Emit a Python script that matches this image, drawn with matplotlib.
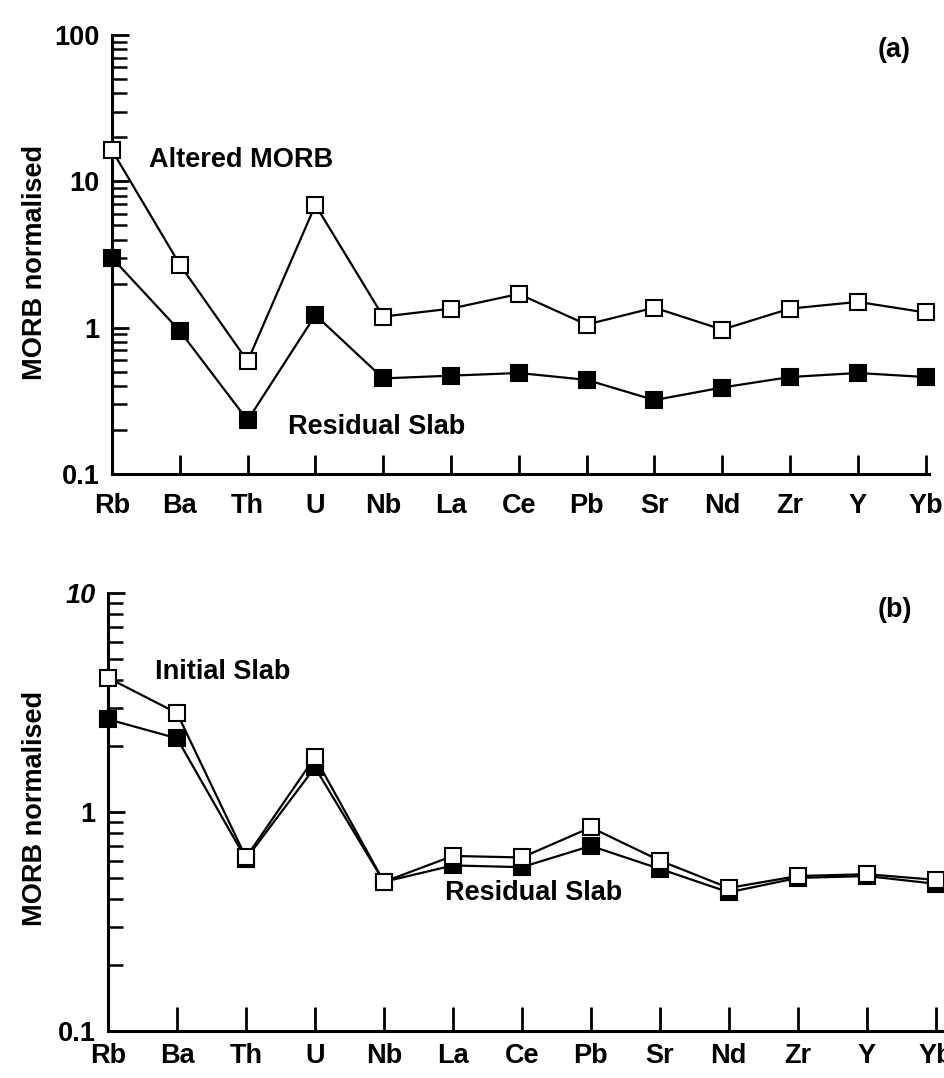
import matplotlib
matplotlib.use("Agg")
import matplotlib.pyplot as plt
from matplotlib.ticker import LogLocator, NullFormatter, FixedLocator, FixedFormatter

elements = ["Rb", "Ba", "Th", "U", "Nb", "La", "Ce", "Pb", "Sr", "Nd", "Zr", "Y", "Yb"]

# Panel (a)
altered_morb = [16.3, 2.7, 0.59, 6.9, 1.19, 1.35, 1.70, 1.05, 1.37, 0.97, 1.35, 1.50, 1.27]
residual_slab_a = [3.0, 0.95, 0.233, 1.22, 0.45, 0.47, 0.49, 0.44, 0.32, 0.39, 0.46, 0.49, 0.46]

# Panel (b)
initial_slab = [4.1, 2.83, 0.62, 1.78, 0.48, 0.63, 0.62, 0.85, 0.60, 0.45, 0.51, 0.52, 0.49]
residual_slab_b = [2.65, 2.17, 0.61, 1.60, 0.48, 0.57, 0.56, 0.70, 0.55, 0.43, 0.50, 0.51, 0.47]

plt.rcParams['font.family'] = ['Liberation Sans', 'DejaVu Sans']

fig = plt.figure(figsize=(9.44, 10.78), dpi=100)

W, H = 944, 1078
def ax_rect(x0, x1, ytop, ybot):
    return [x0 / W, 1 - ybot / H, (x1 - x0) / W, (ybot - ytop) / H]

ax_a = fig.add_axes(ax_rect(112, 929, 35, 474))
ax_b = fig.add_axes(ax_rect(108, 944, 593, 1031))

xs = list(range(len(elements)))
FS = 19.5

def style(ax, ylim, xlim_right, yticks, ylabels, xpad, xlen, italic_top=False):
    ax.set_yscale('log')
    ax.set_ylim(*ylim)
    ax.set_xlim(0, xlim_right)
    for s in ['top', 'right']:
        ax.spines[s].set_visible(False)
    for s in ['left', 'bottom']:
        ax.spines[s].set_linewidth(2.2)
    ax.set_xticks(xs)
    ax.set_xticklabels(elements, fontsize=FS, fontweight='bold')
    ax.yaxis.set_major_locator(FixedLocator(yticks))
    ax.yaxis.set_major_formatter(FixedFormatter(ylabels))
    ax.yaxis.set_minor_locator(LogLocator(base=10, subs=range(2, 10)))
    ax.yaxis.set_minor_formatter(NullFormatter())
    ax.tick_params(axis='x', direction='in', length=xlen, width=2, pad=xpad)
    ax.tick_params(axis='y', which='major', direction='in', length=12, width=2,
                   labelsize=FS, pad=9)
    ax.tick_params(axis='y', which='minor', direction='in', length=11, width=1.8)
    for lbl in ax.get_yticklabels():
        lbl.set_fontweight('bold')
    if italic_top:
        ax.get_yticklabels()[-1].set_fontstyle('italic')

def plot_pair(ax, open_vals, filled_vals):
    ax.plot(xs, filled_vals, color='black', lw=1.6, marker='s', ms=12,
            mfc='black', mec='black', mew=1.5, clip_on=False, zorder=3)
    ax.plot(xs, open_vals, color='black', lw=1.6, marker='s', ms=12,
            mfc='white', mec='black', mew=1.5, clip_on=False, zorder=4)

plot_pair(ax_a, altered_morb, residual_slab_a)
style(ax_a, (0.1, 100), 12.05, [0.1, 1, 10, 100], ["0.1", "1", "10", "100"],
      xpad=14, xlen=14)
ax_a.text(0.045, 0.716, "Altered MORB", transform=ax_a.transAxes, fontsize=FS,
          fontweight='bold', va='center', ha='left')
ax_a.text(0.216, 0.107, "Residual Slab", transform=ax_a.transAxes, fontsize=FS,
          fontweight='bold', va='center', ha='left')
ax_a.text(0.957, 0.966, "(a)", transform=ax_a.transAxes, fontsize=FS,
          fontweight='bold', va='center', ha='center')

plot_pair(ax_b, initial_slab, residual_slab_b)
style(ax_b, (0.1, 10), 12.12, [0.1, 1, 10], ["0.1", "1", "10"],
      xpad=8.5, xlen=17, italic_top=True)
ax_b.text(0.056, 0.819, "Initial Slab", transform=ax_b.transAxes, fontsize=FS,
          fontweight='bold', va='center', ha='left')
ax_b.text(0.403, 0.314, "Residual Slab", transform=ax_b.transAxes, fontsize=FS,
          fontweight='bold', va='center', ha='left')
ax_b.text(0.941, 0.961, "(b)", transform=ax_b.transAxes, fontsize=FS,
          fontweight='bold', va='center', ha='center')

fig.text(35 / W, 1 - 262 / H, "MORB normalised", rotation=90, fontsize=FS,
         fontweight='bold', va='center', ha='center')
fig.text(35 / W, 1 - 808 / H, "MORB normalised", rotation=90, fontsize=FS,
         fontweight='bold', va='center', ha='center')

fig.savefig("out.png", dpi=100)
